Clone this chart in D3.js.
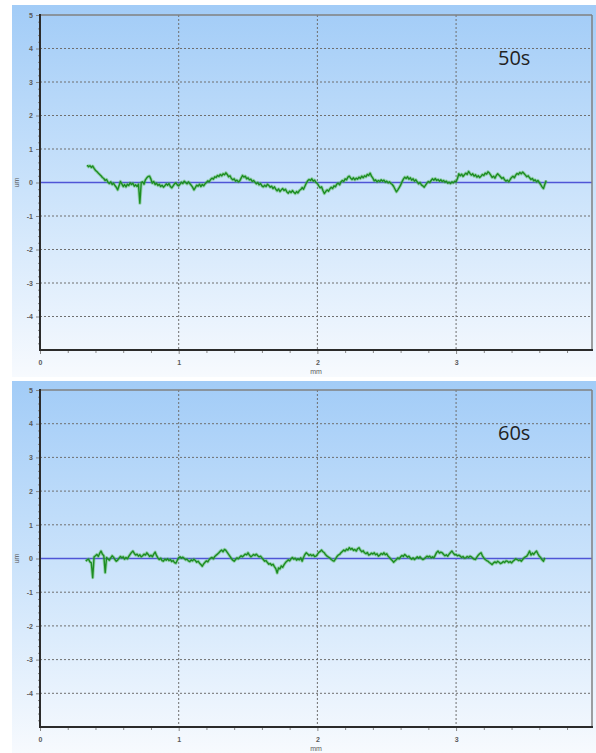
<!DOCTYPE html>
<html>
<head>
<meta charset="utf-8">
<script src="https://d3js.org/d3.v7.min.js"></script>
<style>
  body { margin: 0; background: #fff; }
  svg { display: block; }
</style>
</head>
<body>
<script>
// profile heights (um), sampled every 0.01 mm
var sampleStep = 0.01;

var start50 = 0.34;
var profile50 = [
  0.52, 0.47, 0.50, 0.45, 0.49, 0.42, 0.36, 0.33, 0.28, 0.24,
  0.20, 0.15, 0.12, 0.06, 0.09, 0.01, -0.03, 0.02, -0.06, -0.02,
  -0.09, -0.14, -0.22, -0.10, 0.03, -0.04, -0.12, -0.06, -0.13, -0.05,
  -0.09, -0.01, -0.06, -0.02, -0.11, -0.07, -0.12, -0.05, -0.62, 0.00,
  0.02, -0.05, 0.08, 0.14, 0.18, 0.19, 0.10, -0.02, 0.03, -0.06,
  -0.02, -0.09, -0.05, -0.12, -0.08, -0.14, -0.10, -0.04, -0.08, -0.03,
  -0.12, -0.16, -0.10, -0.04, -0.01, -0.07, -0.10, -0.05, 0.01, -0.03,
  0.04, 0.00, -0.04, 0.02, -0.03, -0.08, -0.14, -0.22, -0.15, -0.08,
  -0.11, -0.05, -0.12, -0.06, -0.10, -0.04, 0.00, 0.05, 0.02, 0.09,
  0.13, 0.10, 0.17, 0.15, 0.21, 0.18, 0.24, 0.20, 0.26, 0.23,
  0.29, 0.24, 0.17, 0.20, 0.12, 0.08, 0.11, 0.04, 0.07, 0.02,
  0.05, 0.13, 0.21, 0.16, 0.19, 0.11, 0.14, 0.08, 0.10, 0.03,
  0.06, 0.01, -0.04, 0.00, -0.07, -0.03, -0.10, -0.13, -0.08, -0.12,
  -0.05, -0.09, -0.14, -0.11, -0.18, -0.13, -0.20, -0.25, -0.19, -0.27,
  -0.22, -0.18, -0.24, -0.20, -0.28, -0.32, -0.26, -0.30, -0.24, -0.29,
  -0.33, -0.27, -0.31, -0.24, -0.21, -0.15, -0.20, -0.11, -0.02, 0.05,
  0.09, 0.06, 0.11, 0.04, 0.07, 0.00, -0.03, -0.10, -0.16, -0.13,
  -0.24, -0.33, -0.27, -0.22, -0.26, -0.19, -0.14, -0.18, -0.10, -0.13,
  -0.05, -0.02, -0.07, 0.02, 0.06, 0.03, 0.11, 0.08, 0.16, 0.19,
  0.13, 0.09, 0.14, 0.08, 0.13, 0.10, 0.16, 0.12, 0.19, 0.14,
  0.20, 0.17, 0.24, 0.21, 0.28, 0.19, 0.13, 0.05, 0.08, 0.02,
  0.06, 0.03, 0.08, 0.04, 0.07, 0.01, 0.04, -0.01, 0.02, -0.03,
  -0.06, -0.12, -0.20, -0.28, -0.22, -0.15, -0.08, 0.02, 0.10, 0.16,
  0.12, 0.17, 0.10, 0.14, 0.07, 0.11, 0.04, 0.08, 0.02, -0.04,
  0.00, -0.07, -0.10, -0.14, -0.08, -0.02, 0.03, 0.00, 0.06, 0.11,
  0.07, 0.12, 0.06, 0.09, 0.04, 0.08, 0.03, 0.06, 0.01, 0.04,
  -0.02, 0.01, -0.03, 0.02, -0.01, 0.04, 0.02, 0.12, 0.26, 0.20,
  0.25, 0.18, 0.23, 0.28, 0.24, 0.33, 0.27, 0.22, 0.26, 0.19,
  0.23, 0.16, 0.20, 0.15, 0.19, 0.24, 0.21, 0.28, 0.25, 0.32,
  0.28, 0.22, 0.15, 0.19, 0.13, 0.21, 0.26, 0.22, 0.17, 0.12,
  0.15, 0.08, 0.04, 0.07, 0.02, 0.09, 0.15, 0.19, 0.14, 0.22,
  0.27, 0.24, 0.30, 0.26, 0.31, 0.27, 0.22, 0.17, 0.20, 0.14,
  0.09, 0.12, 0.05, 0.08, 0.02, 0.06, 0.00, -0.06, -0.13, -0.18,
  -0.05, 0.06
];

var start60 = 0.33;
var profile60 = [
  -0.08, -0.04, -0.02, -0.10, -0.13, -0.57, 0.05, 0.08, 0.12, 0.06,
  0.15, 0.22, 0.13, 0.08, -0.42, 0.03, -0.02, -0.05, 0.02, 0.08,
  0.04, -0.03, -0.08, -0.05, 0.01, 0.06, 0.02, 0.05, -0.02, 0.03,
  -0.01, 0.06, 0.12, 0.18, 0.22, 0.15, 0.10, 0.13, 0.07, 0.11,
  0.05, 0.08, 0.13, 0.10, 0.17, 0.12, 0.06, 0.10, 0.05, 0.13,
  0.19, 0.09, 0.02, -0.03, 0.01, -0.06, -0.08, -0.02, -0.05, -0.01,
  -0.06, -0.03, -0.09, -0.06, -0.12, -0.14, -0.05, 0.02, 0.05, 0.01,
  0.04, 0.00, -0.04, -0.02, -0.07, -0.09, -0.04, -0.07, -0.02, -0.06,
  -0.11, -0.08, -0.14, -0.18, -0.23, -0.16, -0.11, -0.07, -0.10, -0.03,
  0.01, 0.03, -0.01, 0.06, 0.10, 0.13, 0.17, 0.22, 0.25, 0.20,
  0.27, 0.24, 0.18, 0.12, 0.06, 0.00, -0.05, -0.08, -0.03, 0.02,
  -0.01, 0.04, 0.08, 0.05, 0.09, 0.13, 0.11, 0.17, 0.10, 0.05,
  0.08, 0.12, 0.09, 0.13, 0.08, 0.05, 0.07, 0.02, -0.03, -0.08,
  -0.06, -0.12, -0.17, -0.15, -0.20, -0.17, -0.24, -0.30, -0.43, -0.28,
  -0.31, -0.22, -0.26, -0.18, -0.12, -0.08, -0.04, -0.07, -0.01, 0.03,
  -0.02, 0.01, -0.05, -0.01, -0.04, 0.02, -0.08, 0.03, 0.12, 0.17,
  0.13, 0.09, 0.12, 0.08, 0.11, 0.06, 0.07, 0.12, 0.18, 0.21,
  0.25, 0.20, 0.17, 0.11, 0.07, 0.04, 0.02, -0.03, -0.06, -0.08,
  -0.02, 0.05, 0.10, 0.12, 0.17, 0.21, 0.25, 0.22, 0.28, 0.25,
  0.32, 0.27, 0.30, 0.24, 0.27, 0.22, 0.29, 0.32, 0.25, 0.20,
  0.23, 0.17, 0.14, 0.18, 0.10, 0.12, 0.16, 0.13, 0.17, 0.11,
  0.14, 0.07, 0.10, 0.15, 0.12, 0.17, 0.11, 0.14, 0.07, 0.03,
  -0.02, -0.06, -0.11, -0.07, -0.03, 0.02, -0.01, 0.05, 0.09, 0.06,
  0.12, 0.08, 0.04, 0.07, 0.01, -0.02, 0.02, -0.03, 0.01, 0.05,
  0.01, 0.05, 0.00, -0.03, -0.01, 0.03, 0.07, 0.04, 0.07, 0.02,
  0.05, 0.02, 0.10, 0.18, 0.22, 0.16, 0.19, 0.17, 0.12, 0.08,
  0.11, 0.07, 0.13, 0.18, 0.22, 0.16, 0.11, 0.12, 0.08, 0.10,
  0.07, 0.03, 0.06, 0.01, 0.02, 0.06, 0.03, 0.07, 0.05, 0.01,
  -0.02, -0.03, 0.04, 0.10, 0.14, 0.17, 0.08, 0.02, -0.03, -0.06,
  -0.08, -0.12, -0.15, -0.18, -0.13, -0.10, -0.13, -0.08, -0.11, -0.15,
  -0.13, -0.09, -0.12, -0.07, -0.08, -0.12, -0.09, -0.13, -0.08, -0.05,
  -0.01, -0.03, -0.06, -0.04, -0.08, -0.03, 0.02, 0.05, 0.07, 0.14,
  0.22, 0.10, 0.16, 0.12, 0.18, 0.22, 0.14, 0.07, 0.03, -0.04,
  -0.08, 0.02
];

var xMajor = [0, 1, 2, 3];
var yMajor = [-4, -3, -2, -1, 0, 1, 2, 3, 4, 5];
var panelLabels = ["50s", "60s"];

var width = 596, height = 753;

var svg = d3.select("body").append("svg")
  .attr("width", width)
  .attr("height", height);

var grad = svg.append("defs").append("linearGradient")
  .attr("id", "bg")
  .attr("x1", 0).attr("y1", 0).attr("x2", 0).attr("y2", 1);
grad.append("stop").attr("offset", "0%").attr("stop-color", "#a2ccf7");
grad.append("stop").attr("offset", "50%").attr("stop-color", "#cbe3fb");
grad.append("stop").attr("offset", "100%").attr("stop-color", "#f7fafe");

var panels = [
  { label: panelLabels[0], values: profile50, start: start50, bgTop: 5, bgBottom: 377, top: 15, bottom: 350 },
  { label: panelLabels[1], values: profile60, start: start60, bgTop: 381, bgBottom: 753, top: 390, bottom: 727 }
];

var left = 40, right = 592;

var x = d3.scaleLinear()
  .domain([0, 3.98])
  .range([left, right]);

var xMinor = d3.range(0, 3.98, 0.2).filter(d => Math.abs(d - Math.round(d)) > 0.01);

var labelFont = "Liberation Sans, Arial, sans-serif";

panels.forEach(function (p) {
  var g = svg.append("g");

  g.append("rect")
    .attr("x", 12)
    .attr("y", p.bgTop)
    .attr("width", width - 12)
    .attr("height", p.bgBottom - p.bgTop)
    .attr("fill", "url(#bg)");

  var y = d3.scaleLinear()
    .domain([-5, 5])
    .range([p.bottom, p.top]);

  var yMinor = d3.range(-5, 5, 0.2).filter(d => Math.abs(d - Math.round(d)) > 0.01);

  // dotted grid
  g.append("g")
    .selectAll("line")
    .data(yMajor.filter(d => d < 5 && d !== 0))
    .join("line")
    .attr("x1", left).attr("x2", right)
    .attr("y1", d => y(d)).attr("y2", d => y(d))
    .attr("stroke", "#6f6f6f")
    .attr("stroke-width", 1)
    .attr("stroke-dasharray", "2,2");

  g.append("g")
    .selectAll("line")
    .data(xMajor.filter(d => d > 0))
    .join("line")
    .attr("x1", d => x(d)).attr("x2", d => x(d))
    .attr("y1", p.top).attr("y2", p.bottom)
    .attr("stroke", "#6f6f6f")
    .attr("stroke-width", 1)
    .attr("stroke-dasharray", "2,2");

  // zero line
  g.append("line")
    .attr("x1", left).attr("x2", right)
    .attr("y1", y(0)).attr("y2", y(0))
    .attr("stroke", "#4f55d6")
    .attr("stroke-width", 1.3);

  // profile
  var line = d3.line()
    .x((d, i) => x(p.start + i * sampleStep))
    .y(d => y(d));

  g.append("path")
    .datum(p.values)
    .attr("d", line)
    .attr("fill", "none")
    .attr("stroke", "#4fb84f")
    .attr("stroke-width", 3.2)
    .attr("stroke-opacity", 0.45)
    .attr("stroke-linejoin", "round");

  g.append("path")
    .datum(p.values)
    .attr("d", line)
    .attr("fill", "none")
    .attr("stroke", "#1d8d22")
    .attr("stroke-width", 1.4)
    .attr("stroke-linejoin", "round");

  // frame
  g.append("line")
    .attr("x1", left).attr("x2", right)
    .attr("y1", p.top).attr("y2", p.top)
    .attr("stroke", "#808080").attr("stroke-width", 1.5);
  g.append("line")
    .attr("x1", right).attr("x2", right)
    .attr("y1", p.top).attr("y2", p.bottom)
    .attr("stroke", "#808080").attr("stroke-width", 1.5);

  // axes
  var yAxis = g.append("g")
    .attr("transform", `translate(${left},0)`)
    .call(d3.axisLeft(y).tickValues(yMajor).tickSize(4).tickPadding(3).tickFormat(d => String(d)));
  var yAxisMinor = g.append("g")
    .attr("transform", `translate(${left},0)`)
    .call(d3.axisLeft(y).tickValues(yMinor).tickSize(2).tickFormat(""));

  var xAxis = g.append("g")
    .attr("transform", `translate(0,${p.bottom})`)
    .call(d3.axisBottom(x).tickValues(xMajor).tickSize(4).tickPadding(6).tickFormat(d => String(d)));
  var xAxisMinor = g.append("g")
    .attr("transform", `translate(0,${p.bottom})`)
    .call(d3.axisBottom(x).tickValues(xMinor).tickSize(3).tickFormat(""));

  [yAxis, yAxisMinor, xAxis, xAxisMinor].forEach(function (a) {
    a.select(".domain").remove();
    a.selectAll(".tick line").attr("stroke", "#888");
    a.selectAll("text")
      .attr("fill", "#5a5a5a")
      .style("font-family", labelFont)
      .style("font-size", "7px")
      .style("font-weight", "bold");
  });

  g.append("line")
    .attr("x1", left).attr("x2", left)
    .attr("y1", p.top - 1).attr("y2", p.bottom + 1)
    .attr("stroke", "#2b2b2b").attr("stroke-width", 2);
  g.append("line")
    .attr("x1", left - 1).attr("x2", right + 1)
    .attr("y1", p.bottom).attr("y2", p.bottom)
    .attr("stroke", "#2b2b2b").attr("stroke-width", 2);

  // axis titles
  g.append("text")
    .attr("transform", `translate(19,${y(0)}) rotate(-90)`)
    .attr("text-anchor", "middle")
    .attr("fill", "#5a5a5a")
    .style("font-family", labelFont)
    .style("font-size", "7px")
    .text("um");

  g.append("text")
    .attr("x", (left + right) / 2)
    .attr("y", p.bottom + 24)
    .attr("text-anchor", "middle")
    .attr("fill", "#5a5a5a")
    .style("font-family", labelFont)
    .style("font-size", "7px")
    .text("mm");

  g.append("text")
    .attr("x", 498)
    .attr("y", p.top + 50)
    .attr("fill", "#222")
    .style("font-family", "Open Sans, Noto Sans, sans-serif")
    .style("font-size", "20px")
    .text(p.label);
});
</script>
</body>
</html>
